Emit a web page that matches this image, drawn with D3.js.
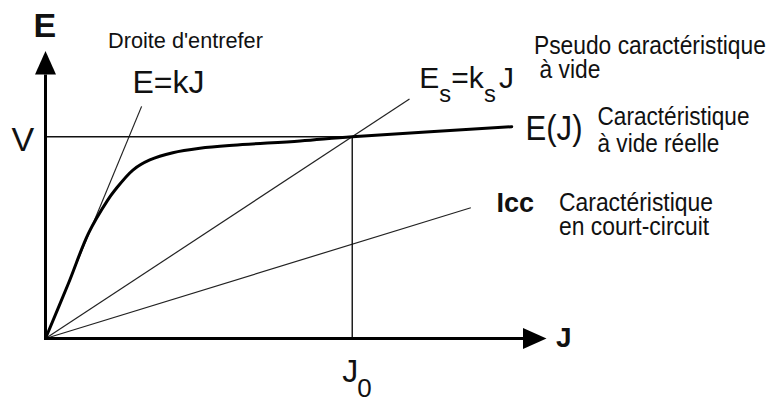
<!DOCTYPE html>
<html>
<head>
<meta charset="utf-8">
<script src="https://cdn.jsdelivr.net/npm/d3@7"></script>
<style>
  html, body { margin: 0; padding: 0; background: #fff; }
  svg { display: block; }
  text { font-family: "Liberation Sans", Arial, sans-serif; fill: #111; }
</style>
</head>
<body>
<svg id="chart" width="772" height="403"></svg>
<script>
// Open-circuit characteristic E(J) of a synchronous machine (arbitrary units)
const openCircuitJ = [0, 0.45, 0.84, 1.22, 1.36, 1.71, 2.04, 2.49, 3.02, 3.67, 4.98, 6, 9.12];
const openCircuitE = [0, 27.4, 52.1, 68.7, 73.6, 83.5, 88.5, 92.1, 94.3, 95.8, 97.9, 100, 105];

// Straight characteristics through the origin: air-gap line, pseudo open-circuit, short-circuit
const lineNames = ["airGap", "pseudo", "shortCircuit"];
const lineSlopes = [61.2, 16.67, 7.79];
const lineEndJ = [1.88, 7.12, 8.32];

// Operating point and axis extents
const J0 = 6;
const V = 100;
const axisMaxJ = 9.8;
const axisMaxE = 142.5;

const svg = d3.select("#chart");
const x = d3.scaleLinear().domain([0, axisMaxJ]).range([45.5, 546.5]);
const y = d3.scaleLinear().domain([0, axisMaxE]).range([338.5, 51]);

const ink = "#111";

// Straight lines from the origin
const lines = lineNames.map((name, i) => ({
  name,
  pts: [[0, 0], [lineEndJ[i], lineSlopes[i] * lineEndJ[i]]]
}));
const straight = d3.line().x(d => x(d[0])).y(d => y(d[1]));
svg.append("g").selectAll("path").data(lines).join("path")
  .attr("d", d => straight(d.pts))
  .attr("fill", "none")
  .attr("stroke", "#222")
  .attr("stroke-width", 1.2);

// Guide lines at V and J0
svg.append("line")
  .attr("x1", x(0)).attr("x2", x(J0))
  .attr("y1", y(V)).attr("y2", y(V))
  .attr("stroke", ink).attr("stroke-width", 1.4);
svg.append("line")
  .attr("x1", x(J0)).attr("x2", x(J0))
  .attr("y1", y(V)).attr("y2", y(0))
  .attr("stroke", ink).attr("stroke-width", 1.4);

// Real open-circuit curve
const curvePts = openCircuitJ.map((j, i) => [j, openCircuitE[i]]);
svg.append("path")
  .attr("d", d3.line().x(d => x(d[0])).y(d => y(d[1])).curve(d3.curveCatmullRom.alpha(0.5))(curvePts))
  .attr("fill", "none")
  .attr("stroke", "#000")
  .attr("stroke-width", 3)
  .attr("stroke-linecap", "round");

// Axes with arrow heads
const arrowLen = 23.5, arrowHalf = 10.5;
svg.append("line")
  .attr("x1", x(0)).attr("x2", x(0))
  .attr("y1", y(0) + 1.5).attr("y2", y(axisMaxE) + arrowLen)
  .attr("stroke", "#000").attr("stroke-width", 3);
svg.append("path")
  .attr("d", `M${x(0)},${y(axisMaxE)} L${x(0) - arrowHalf},${y(axisMaxE) + arrowLen} L${x(0) + arrowHalf},${y(axisMaxE) + arrowLen} Z`)
  .attr("fill", "#000");
svg.append("line")
  .attr("x1", x(0) - 1.5).attr("x2", x(axisMaxJ) - arrowLen)
  .attr("y1", y(0)).attr("y2", y(0))
  .attr("stroke", "#000").attr("stroke-width", 3);
svg.append("path")
  .attr("d", `M${x(axisMaxJ)},${y(0)} L${x(axisMaxJ) - arrowLen},${y(0) - arrowHalf} L${x(axisMaxJ) - arrowLen},${y(0) + arrowHalf} Z`)
  .attr("fill", "#000");

// Single-line label
function label(str, px, py, size, opts = {}) {
  const t = svg.append("text")
    .attr("x", px).attr("y", py)
    .attr("font-size", size)
    .text(str);
  if (opts.bold) t.attr("font-weight", "bold");
  return t;
}

// Multi-line label, horizontally narrowed so the first line spans `width`
function block(rows, px, py, size, width, gap, indents) {
  const t = svg.append("text").attr("font-size", size);
  const spans = rows.map((s, i) => t.append("tspan").attr("x", 0).attr("y", i * gap).text(s));
  const sx = width / spans[0].node().getComputedTextLength();
  spans.forEach((sp, i) => sp.attr("x", (indents ? indents[i] : 0) / sx));
  t.attr("transform", `translate(${px},${py}) scale(${sx},1)`);
  return t;
}

// Axis names
label("E", 33.5, 37.3, 34, { bold: true });
label("J", 556, 346.7, 28, { bold: true });

// Axis values
label("V", 11.5, y(V) + 14, 34);
label("J", x(J0) - 10, 381.7, 32);
label("0", x(J0) + 5, 396.7, 26);

// Air-gap line
block(["Droite d'entrefer"], 108, 48, 21.5, 155, 0);
label("E=kJ", 132.5, 92.7, 32);

// Pseudo open-circuit line
label("E", 419.3, 88.3, 30);
label("s", 439.3, 101.7, 23.7);
label("=k", 451.3, 88.3, 30);
label("s", 484, 101.7, 23.7);
label("J", 499, 88.3, 30);
block(["Pseudo caractéristique", "à vide"], 534, 54.3, 26, 232, 24, [0, 5.5]);

// Real open-circuit curve
block(["E(J)"], 525.5, 140, 35, 57, 0);
block(["Caractéristique", "à vide réelle"], 597.5, 125, 25, 152, 26.7, [0, 0]);

// Short-circuit line
label("Icc", 496.6, 212, 27, { bold: true });
block(["Caractéristique", "en court-circuit"], 559, 210.7, 25, 154, 24.3, [0, 0]);
</script>
</body>
</html>
